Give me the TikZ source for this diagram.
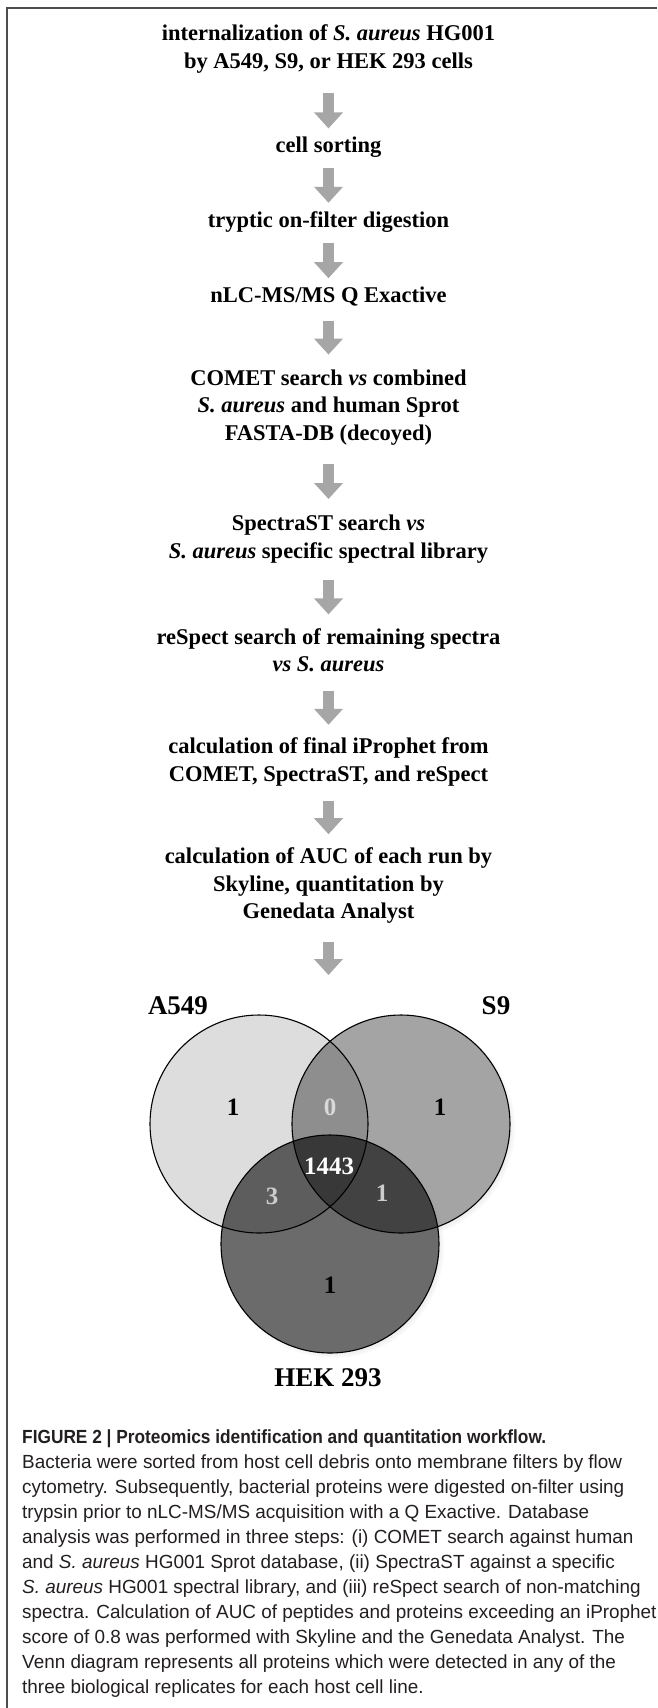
\documentclass[tikz,border=0pt]{standalone}
\usepackage{fontspec}
\usepackage{xcolor}
\setmainfont{Liberation Serif}
\newfontfamily\capfont{Liberation Sans}[FakeStretch=0.995]
\newfontfamily\captitlefont{Liberation Sans}[FakeStretch=0.91]
\usetikzlibrary{arrows.meta, positioning, shadows, fadings}
\definecolor{arrowgray}{HTML}{A6A6A6}
\definecolor{framegray}{HTML}{4D4D4D}
\definecolor{vennA}{HTML}{DDDDDD}
\definecolor{vennS}{HTML}{A4A4A4}
\definecolor{vennH}{HTML}{6B6B6B}
\definecolor{vennAS}{HTML}{8E8E8E}
\definecolor{vennAH}{HTML}{5D5D5D}
\definecolor{vennSH}{HTML}{424242}
\definecolor{vennASH}{HTML}{383838}
\definecolor{captext}{HTML}{231F20}

\begin{document}
\begin{tikzpicture}[
    x=1pt, y=-1pt,
    node distance=50pt,
    stepbox/.style={align=center, inner sep=0pt, font=\fontsize{22.5}{27.5}\selectfont\bfseries},
    flowarrow/.style 2 args={-{Triangle[width=28pt, length=16pt]}, line width=10.5pt, draw=arrowgray,
        shorten <=#1, shorten >=#2},
    venn/.style={circle, minimum size=218pt, inner sep=0pt},
    vennlabel/.style={font=\fontsize{27}{30}\selectfont\bfseries},
    count/.style={font=\fontsize{25}{28}\selectfont\bfseries}
]

% Page and frame
\fill[white] (0,0) rectangle (657,1708);
\useasboundingbox (0,0) rectangle (657,1708);
\draw[framegray, line width=2pt] (7,1708) -- (7,8) -- (657,8);

% Workflow steps
\node[stepbox, anchor=north] (infect) at (328.5,21.25) {\strut internalization of \textit{S.~aureus} HG001\\\strut by A549, S9, or HEK 293 cells};
\node[stepbox, below=56pt of infect] (sorting) {\strut cell sorting};
\node[stepbox, below=47.5pt of sorting] (digest) {\strut tryptic on-filter digestion};
\node[stepbox, below=47.5pt of digest] (msms) {\strut nLC-MS/MS Q Exactive};
\node[stepbox, below=54.5pt of msms] (comet) {\strut COMET search \textit{vs} combined\\\strut\textit{S.~aureus} and human Sprot\\\strut FASTA-DB (decoyed)};
\node[stepbox, below=62.5pt of comet] (spectrast) {\strut SpectraST search \textit{vs}\\\strut\textit{S.~aureus} specific spectral library};
\node[stepbox, below=58pt of spectrast] (respect) {\strut reSpect search of remaining spectra\\\strut\textit{vs S.~aureus}};
\node[stepbox, below=54pt of respect] (iprophet) {\strut calculation of final iProphet from\\\strut COMET, SpectraST, and reSpect};
\node[stepbox, below=55pt of iprophet] (auc) {\strut calculation of AUC of each run by\\\strut Skyline, quantitation by\\\strut Genedata Analyst};
\coordinate (venntop) at (328.5,975);

% Arrows
\draw[flowarrow={16.75pt}{4.25pt}] (infect) -- (sorting);
\draw[flowarrow={7.25pt}{5.25pt}] (sorting) -- (digest);
\draw[flowarrow={7.25pt}{5.25pt}] (digest) -- (msms);
\draw[flowarrow={9.25pt}{11.25pt}] (msms) -- (comet);
\draw[flowarrow={15.25pt}{12.25pt}] (comet) -- (spectrast);
\draw[flowarrow={13.75pt}{10.25pt}] (spectrast) -- (respect);
\draw[flowarrow={10.75pt}{9.25pt}] (respect) -- (iprophet);
\draw[flowarrow={11.75pt}{10.25pt}] (iprophet) -- (auc);
\draw[flowarrow={14.25pt}{0pt}] (auc) -- (venntop);

% Venn diagram
\node[venn, fill=vennA, circular drop shadow={shadow scale=1.02, shadow xshift=3pt, shadow yshift=-3pt, opacity=.35}] (a549) at (259,1124) {};
\node[venn, fill=vennS, circular drop shadow={shadow scale=1.02, shadow xshift=3pt, shadow yshift=-3pt, opacity=.35}] (s9) at (401,1124) {};
\node[venn, fill=vennH, circular drop shadow={shadow scale=1.02, shadow xshift=3pt, shadow yshift=-3pt, opacity=.35}] (hek) at (330,1244) {};
\begin{scope}
  \clip (a549.center) circle[radius=109pt];
  \fill[vennAS] (s9.center) circle[radius=109pt];
  \fill[vennAH] (hek.center) circle[radius=109pt];
\end{scope}
\begin{scope}
  \clip (s9.center) circle[radius=109pt];
  \fill[vennSH] (hek.center) circle[radius=109pt];
  \clip (a549.center) circle[radius=109pt];
  \fill[vennASH] (hek.center) circle[radius=109pt];
\end{scope}
\foreach \set in {a549, s9, hek}
  \draw[line width=1.1pt] (\set.center) circle[radius=109pt];

% Set labels
\node[vennlabel] (labA) at (178,1006) {A549};
\node[vennlabel] (labS) at (496,1006) {S9};
\node[vennlabel] (labH) at (328,1378) {HEK 293};

% Counts
\node[count] (onlyA) at (233,1107) {1};
\node[count, text=white!85!black] (AS) at (330,1107) {0};
\node[count] (onlyS) at (440,1107) {1};
\node[count, text=white] (ASH) at (329,1166) {1443};
\node[count, text=white!80!black] (AH) at (272,1196) {3};
\node[count, text=white!80!black] (SH) at (382,1193) {1};
\node[count] (onlyH) at (330,1285) {1};

% Caption
\node[anchor=north west, align=left, inner sep=0pt, text=captext,
      font=\capfont\fontsize{19}{25}\selectfont] (caption) at (22,1425.5)
  {{\captitlefont\bfseries\strut FIGURE 2 | Proteomics identification and quantitation workflow.}\\
   Bacteria were sorted from host cell debris onto membrane filters by flow\\
   cytometry. Subsequently, bacterial proteins were digested on-filter using\\
   trypsin prior to nLC-MS/MS acquisition with a Q Exactive. Database\\
   analysis was performed in three steps: (i) COMET search against human\\
   and \textit{S. aureus} HG001 Sprot database, (ii) SpectraST against a specific\\
   \textit{S. aureus} HG001 spectral library, and (iii) reSpect search of non-matching\\
   spectra. Calculation of AUC of peptides and proteins exceeding an iProphet\\
   score of 0.8 was performed with Skyline and the Genedata Analyst. The\\
   Venn diagram represents all proteins which were detected in any of the\\
   three biological replicates for each host cell line.};

\end{tikzpicture}
\end{document}
